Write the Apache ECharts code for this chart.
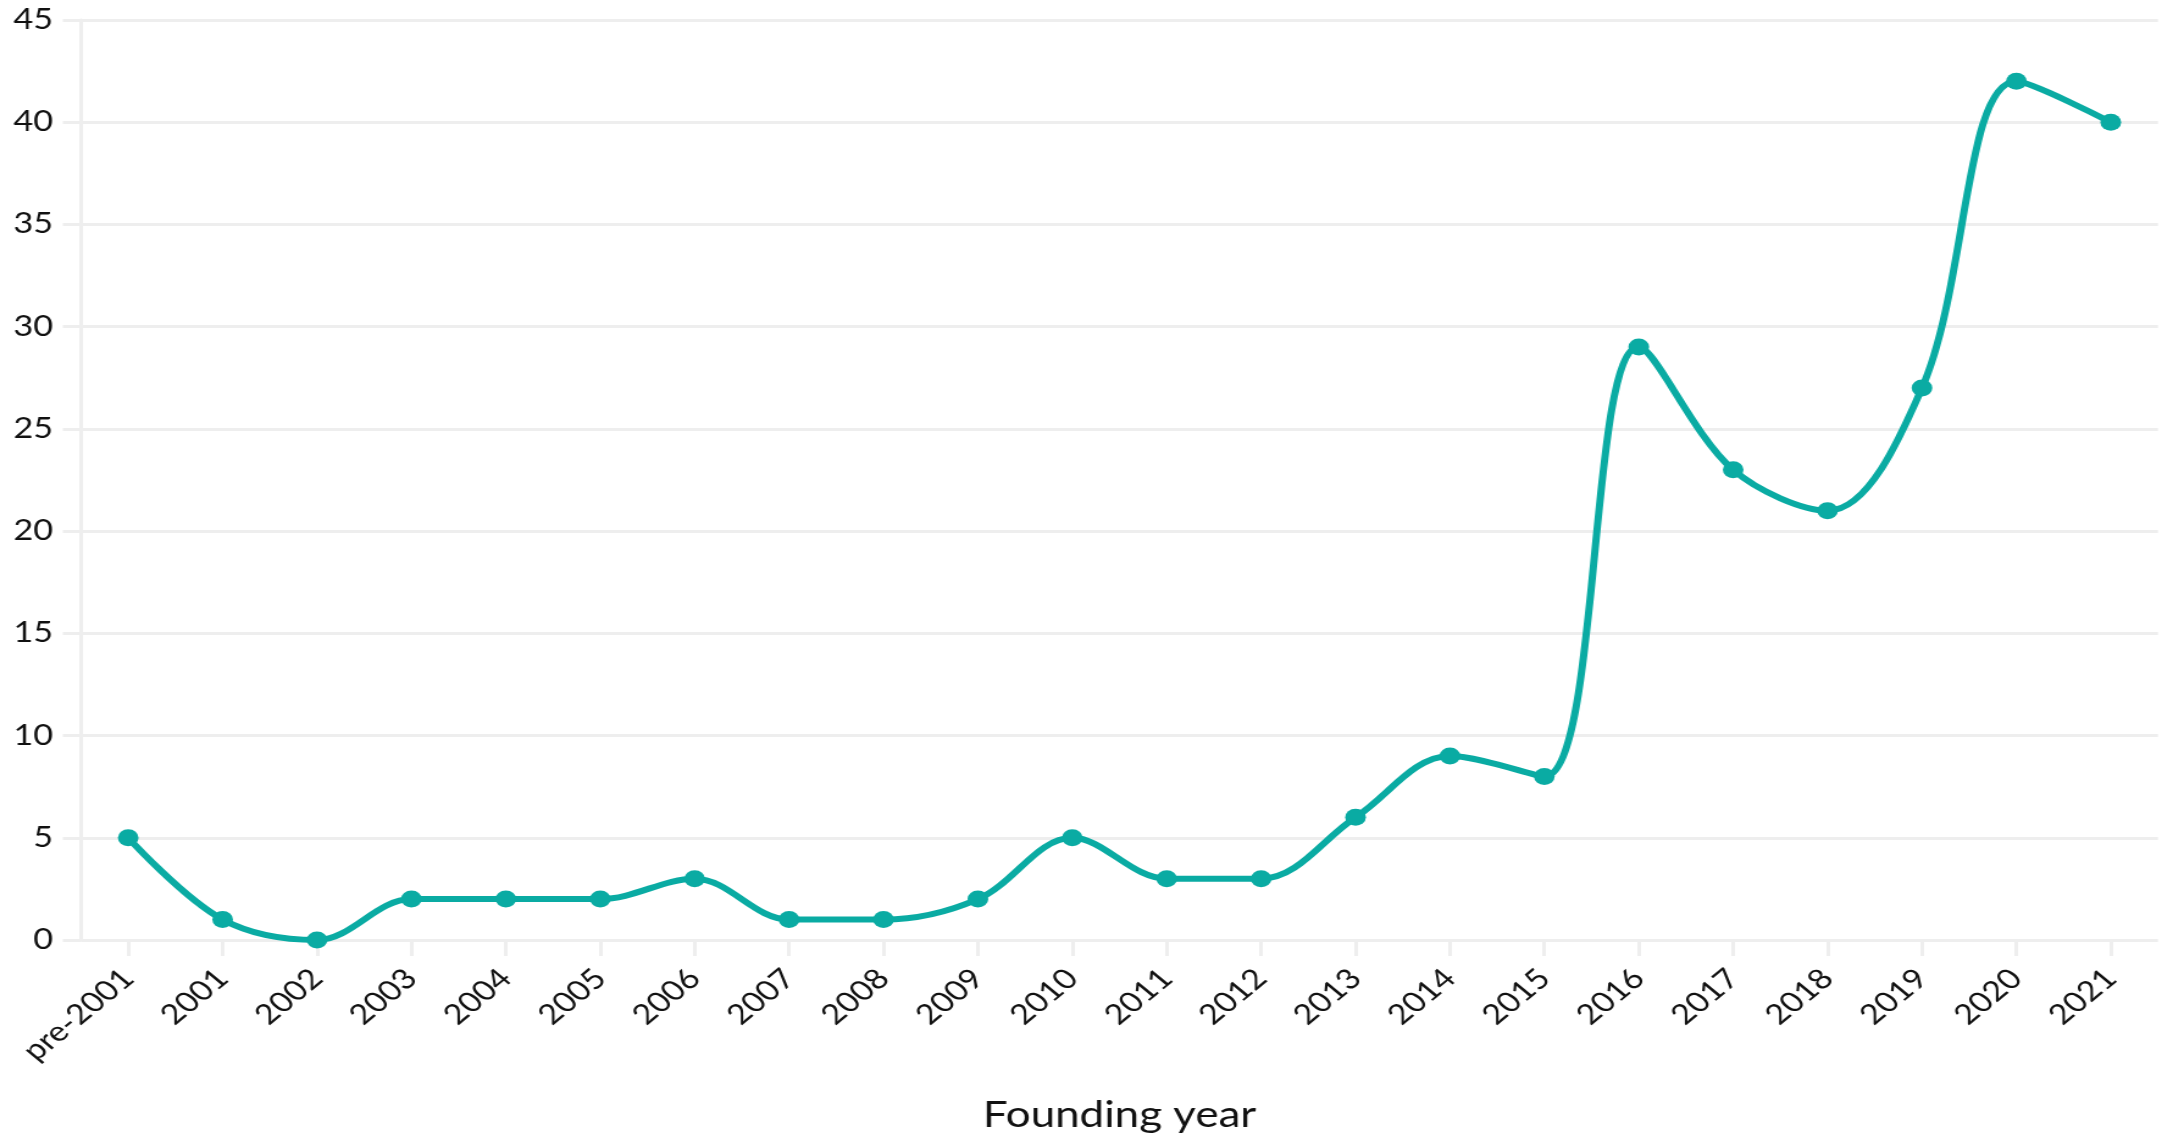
<!DOCTYPE html>
<html><head><meta charset="utf-8">
<script src="https://cdn.jsdelivr.net/npm/echarts@6/dist/echarts.min.js"></script>
<style>
html,body{margin:0;padding:0;background:#fff;overflow:hidden}
#wrap{width:2162px;height:1139px;overflow:hidden}
#c{width:1772px;height:1139px;transform:scaleX(1.2201);transform-origin:0 0}
</style>
</head><body><div id="wrap"><div id="c"></div></div>
<script>
const categories = ['pre-2001','2001','2002','2003','2004','2005','2006','2007','2008','2009','2010','2011','2012','2013','2014','2015','2016','2017','2018','2019','2020','2021'];
const counts = [5,1,0,2,2,2,3,1,1,2,5,3,3,6,9,8,29,23,21,27,42,40];
const yTicks = {min:0, max:45, interval:5};
const xAxisTitle = 'Founding year';

const chart = echarts.init(document.getElementById('c'));
const font = 'Lato, "Open Sans", sans-serif';
chart.setOption({
  animation:false,
  grid:{left:66.4, right:3.3, top:20, bottom:199},
  xAxis:{
    type:'category', data:categories, boundaryGap:true,
    name:xAxisTitle, nameLocation:'middle', nameGap:157,
    nameTextStyle:{fontSize:36, color:'#111', fontFamily:font},
    axisLine:{show:false},
    axisTick:{show:true, alignWithLabel:true, length:16, lineStyle:{color:'#eeeeee', width:3}},
    axisLabel:{rotate:45, fontSize:28, color:'#111', fontFamily:font, margin:34, interval:0}
  },
  yAxis:{
    type:'value', min:yTicks.min, max:yTicks.max, interval:yTicks.interval,
    axisLine:{show:true, lineStyle:{color:'#eeeeee', width:3}},
    axisTick:{show:true, length:15, lineStyle:{color:'#eeeeee', width:3}},
    splitLine:{show:true, lineStyle:{color:'#eeeeee', width:3}},
    axisLabel:{fontSize:28, color:'#111', fontFamily:font, margin:23}
  },
  series:[{
    type:'line', data:counts, smooth:0.35,
    symbol:'circle', symbolSize:17,
    lineStyle:{color:'#0aaba3', width:6},
    itemStyle:{color:'#0aaba3'}
  }]
});
</script></body></html>
